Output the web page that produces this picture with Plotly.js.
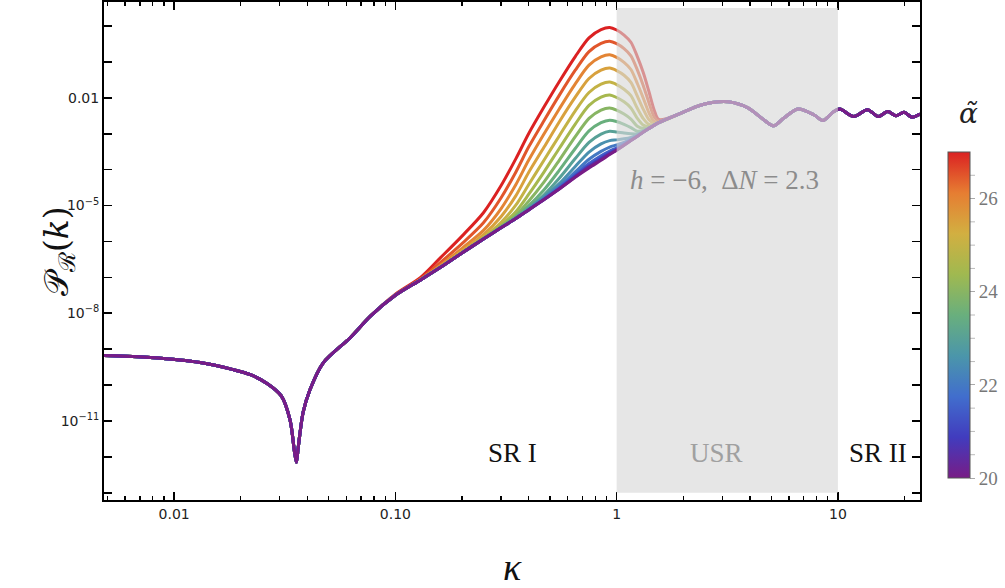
<!DOCTYPE html>
<html>
<head>
<meta charset="utf-8">
<script src="https://cdn.plot.ly/plotly-3.0.1.min.js"></script>
<style>html,body{margin:0;padding:0;background:#fff;}#plot{width:1005px;height:588px;}</style>
</head>
<body>
<div id="plot"></div>
<script>
// ---- data (kappa values, log10 of P_R) ----
// shared low-k part (all curves coincide)
const kappaLow = [0.0047, 0.0078, 0.0131, 0.0185, 0.0221, 0.0264, 0.0305, 0.0334, 0.0350, 0.0357, 0.0364, 0.0383, 0.0411, 0.0472, 0.0625, 0.0771];
const logPLow  = [-9.17, -9.23, -9.37, -9.57, -9.71, -9.96, -10.30, -10.97, -11.86, -12.15, -11.72, -10.75, -10.13, -9.38, -8.68, -8.08];

// bump region (curves differ by alpha)
const kappaMid = [0.1, 0.13, 0.16, 0.2, 0.25, 0.3, 0.35, 0.4, 0.47, 0.55, 0.65, 0.75, 0.85, 0.93, 1.0, 1.08, 1.16, 1.24, 1.32, 1.4, 1.48, 1.55];
const logP_a27   = [-7.47, -7.00, -6.45, -5.85, -5.20, -4.45, -3.70, -3.00, -2.25, -1.55, -0.85, -0.33, -0.10, -0.04, -0.11, -0.25, -0.45, -0.85, -1.30, -1.83, -2.35, -2.60];
const logP_a26_5 = [-7.49, -7.04, -6.58, -6.06, -5.48, -4.79, -4.07, -3.37, -2.63, -1.93, -1.23, -0.71, -0.48, -0.42, -0.49, -0.63, -0.83, -1.22, -1.66, -2.14, -2.54, -2.65];
const logP_a26   = [-7.50, -7.06, -6.66, -6.19, -5.69, -5.09, -4.42, -3.74, -3.00, -2.31, -1.61, -1.09, -0.86, -0.80, -0.87, -1.01, -1.21, -1.60, -2.01, -2.42, -2.66, -2.68];
const logP_a25_5 = [-7.50, -7.06, -6.69, -6.26, -5.81, -5.31, -4.73, -4.08, -3.37, -2.67, -1.98, -1.46, -1.23, -1.17, -1.24, -1.37, -1.57, -1.95, -2.32, -2.61, -2.71, -2.69];
const logP_a25   = [-7.50, -7.07, -6.71, -6.29, -5.88, -5.47, -4.99, -4.42, -3.73, -3.06, -2.36, -1.85, -1.62, -1.56, -1.63, -1.76, -1.94, -2.29, -2.58, -2.74, -2.74, -2.69];
const logP_a24_5 = [-7.50, -7.07, -6.72, -6.31, -5.91, -5.55, -5.17, -4.69, -4.06, -3.41, -2.73, -2.21, -1.98, -1.92, -1.99, -2.11, -2.28, -2.57, -2.76, -2.80, -2.75, -2.69];
const logP_a24   = [-7.50, -7.07, -6.72, -6.32, -5.92, -5.59, -5.27, -4.88, -4.34, -3.74, -3.08, -2.57, -2.34, -2.28, -2.34, -2.45, -2.59, -2.79, -2.85, -2.84, -2.76, -2.69];
const logP_a23_5 = [-7.50, -7.07, -6.72, -6.32, -5.93, -5.61, -5.32, -5.01, -4.56, -4.02, -3.41, -2.92, -2.69, -2.62, -2.66, -2.74, -2.83, -2.93, -2.91, -2.85, -2.76, -2.69];
const logP_a23   = [-7.50, -7.07, -6.72, -6.32, -5.93, -5.62, -5.34, -5.07, -4.70, -4.24, -3.69, -3.24, -3.01, -2.93, -2.95, -2.98, -3.00, -3.00, -2.94, -2.85, -2.76, -2.69];
const logP_a22_5 = [-7.50, -7.07, -6.72, -6.32, -5.93, -5.62, -5.36, -5.10, -4.76, -4.39, -3.91, -3.51, -3.28, -3.19, -3.17, -3.14, -3.10, -3.04, -2.94, -2.85, -2.76, -2.69];
const logP_a22   = [-7.50, -7.07, -6.72, -6.32, -5.93, -5.62, -5.36, -5.12, -4.80, -4.47, -4.06, -3.71, -3.49, -3.37, -3.31, -3.24, -3.15, -3.06, -2.95, -2.85, -2.76, -2.69];
const logP_a21_5 = [-7.50, -7.07, -6.72, -6.32, -5.93, -5.62, -5.36, -5.12, -4.82, -4.51, -4.14, -3.83, -3.61, -3.48, -3.39, -3.28, -3.17, -3.06, -2.95, -2.85, -2.76, -2.69];
const logP_a21   = [-7.50, -7.07, -6.72, -6.32, -5.93, -5.62, -5.36, -5.12, -4.83, -4.53, -4.18, -3.89, -3.68, -3.53, -3.43, -3.30, -3.18, -3.07, -2.95, -2.85, -2.76, -2.69];
const logP_a20_5 = [-7.50, -7.07, -6.72, -6.32, -5.93, -5.62, -5.36, -5.12, -4.83, -4.54, -4.20, -3.92, -3.71, -3.56, -3.45, -3.32, -3.19, -3.07, -2.95, -2.85, -2.76, -2.69];
const logP_a20   = [-7.50, -7.07, -6.72, -6.32, -5.93, -5.62, -5.36, -5.12, -4.83, -4.54, -4.21, -3.95, -3.74, -3.58, -3.46, -3.32, -3.19, -3.07, -2.95, -2.85, -2.76, -2.69];

// shared high-k part (USR tail and SR II oscillations)
const kappaHigh = [2.0, 2.35, 2.7, 3.2, 3.92, 4.62, 5.13, 5.70, 6.6, 7.78, 8.55, 9.59, 10.2, 11.8, 13.6, 15.2, 16.8, 18.3, 19.9, 21.6, 23.5];
const logPHigh  = [-2.40, -2.22, -2.13, -2.11, -2.28, -2.61, -2.78, -2.56, -2.31, -2.47, -2.63, -2.38, -2.31, -2.52, -2.33, -2.52, -2.38, -2.50, -2.40, -2.54, -2.45];

const alphaValues = [27, 26.5, 26, 25.5, 25, 24.5, 24, 23.5, 23, 22.5, 22, 21.5, 21, 20.5, 20];
const midSeries = [logP_a27, logP_a26_5, logP_a26, logP_a25_5, logP_a25, logP_a24_5, logP_a24, logP_a23_5, logP_a23, logP_a22_5, logP_a22, logP_a21_5, logP_a21, logP_a20_5, logP_a20];

const xTickVals = [0.01, 0.1, 1, 10];
const xTickText = ['0.01', '0.10', '1', '10'];
const yTickVals = [1e-11, 1e-8, 1e-5, 1e-2];
const yTickText = ['10<sup>−11</sup>', '10<sup>−8</sup>', '10<sup>−5</sup>', '0.01'];
const cbLabelVals = [20, 22, 24, 26];
const cbMinorVals = [20.5, 21, 21.5, 22.5, 23, 23.5, 24.5, 25, 25.5, 26.5];

// ---- style / geometry ----
const alphaMin = 20, alphaMax = 27;
const rainbow = [
  [0, [120, 28, 134]], [0.125, [65, 60, 190]], [0.25, [65, 110, 205]], [0.375, [75, 150, 170]],
  [0.5, [105, 175, 125]], [0.625, [160, 185, 80]], [0.75, [210, 175, 65]], [0.875, [230, 125, 50]], [1, [219, 33, 34]]
];
const colorscale = rainbow.map(s => [s[0], 'rgb(' + s[1].join(',') + ')']);
function colorAt(a) {
  const t = (a - alphaMin) / (alphaMax - alphaMin);
  for (let i = 1; i < rainbow.length; i++) {
    if (t <= rainbow[i][0]) {
      const [t0, c0] = rainbow[i - 1], [t1, c1] = rainbow[i];
      const f = (t - t0) / (t1 - t0);
      return 'rgb(' + c0.map((v, j) => Math.round(v + f * (c1[j] - v))).join(',') + ')';
    }
  }
  return 'rgb(' + rainbow[rainbow.length - 1][1].join(',') + ')';
}
const pow10 = v => Math.pow(10, v);

const W = 1005, H = 588, M = {l: 104, r: 85, t: 2, b: 88};
const plotW = W - M.l - M.r, plotH = H - M.t - M.b;
const cb = {left: 948, thick: 22, top: 152, len: 326};
const pxToPaperX = px => (px - M.l) / plotW;
const pxToPaperY = py => (H - M.b - py) / plotH;

const traces = alphaValues.map((a, i) => ({
  type: 'scatter', mode: 'lines',
  x: kappaLow.concat(kappaMid, kappaHigh),
  y: logPLow.concat(midSeries[i], logPHigh).map(pow10),
  line: {color: colorAt(a), width: 3, shape: 'spline', smoothing: 0.8},
  hoverinfo: 'skip', showlegend: false
}));

traces.push({
  type: 'scatter', mode: 'markers', x: [1], y: [1e-30], showlegend: false, hoverinfo: 'skip',
  marker: {
    color: [20], cmin: alphaMin, cmax: alphaMax, colorscale: colorscale, showscale: true, opacity: 0,
    colorbar: {
      x: pxToPaperX(cb.left), xanchor: 'left', y: pxToPaperY(cb.top + cb.len / 2), yanchor: 'middle',
      len: cb.len, lenmode: 'pixels', thickness: cb.thick, thicknessmode: 'pixels',
      xpad: 0, ypad: 0, outlinewidth: 1, outlinecolor: '#555',
      ticks: 'outside', ticklen: 5, tickwidth: 1, tickcolor: '#aaa',
      tickmode: 'array', tickvals: cbLabelVals, ticktext: cbLabelVals.map(String),
      tickfont: {family: 'Liberation Serif', size: 19, color: '#777'}
    }
  }
});

const minorX = [];
[0.001, 0.01, 0.1, 1, 10].forEach(d => { for (let m = 2; m <= 9; m++) minorX.push(d * m); });
const minorY = [];
for (let e = -14; e <= 1; e++) { if (![-11, -8, -5, -2].includes(e)) minorY.push(Math.pow(10, e)); }

// minor ticks of the colour bar
const cbMinorShapes = cbMinorVals.map(a => {
  const py = cb.top + cb.len * (alphaMax - a) / (alphaMax - alphaMin);
  return {type: 'line', xref: 'paper', yref: 'paper',
          x0: pxToPaperX(cb.left + cb.thick), x1: pxToPaperX(cb.left + cb.thick + 5),
          y0: pxToPaperY(py), y1: pxToPaperY(py), line: {color: '#bbb', width: 1}, layer: 'above'};
});

const axisCommon = {
  showline: true, linewidth: 2, linecolor: '#000', mirror: 'allticks',
  ticks: 'inside', ticklen: 8, tickwidth: 1.6, tickcolor: '#000',
  showgrid: false, zeroline: false,
  tickfont: {family: 'DejaVu Sans', size: 14, color: '#222'}
};

const layout = {
  width: W, height: H,
  margin: {l: M.l, r: M.r, t: M.t, b: M.b, autoexpand: false},
  paper_bgcolor: '#fff', plot_bgcolor: '#fff',
  showlegend: false,
  xaxis: Object.assign({}, axisCommon, {
    type: 'log', range: [-2.317, 1.371],
    tickmode: 'array', tickvals: xTickVals, ticktext: xTickText,
    minor: {tickvals: minorX, ticks: 'inside', ticklen: 4, tickwidth: 1.4, tickcolor: '#000', showgrid: false},
    title: {text: '<i>κ</i>', font: {family: 'Liberation Serif', size: 38, color: '#111'}, standoff: 34}
  }),
  yaxis: Object.assign({}, axisCommon, {
    type: 'log', range: [-13.2, 0.67],
    tickmode: 'array', tickvals: yTickVals, ticktext: yTickText,
    minor: {tickvals: minorY, ticks: 'inside', ticklen: 8, tickwidth: 1.6, tickcolor: '#000', showgrid: false}
  }),
  shapes: [{
    type: 'rect', xref: 'x', yref: 'y', x0: 1, x1: 10, y0: 1e-13, y1: 3.16,
    fillcolor: 'rgba(215,215,215,0.625)', line: {width: 0}, layer: 'above'
  }].concat(cbMinorShapes),
  annotations: [
    {text: '𝒫<sub>ℛ</sub>(<i>k</i>)', xref: 'paper', yref: 'paper', x: pxToPaperX(58), y: 0.5, textangle: -90,
     showarrow: false, xanchor: 'center', yanchor: 'middle', font: {family: 'DejaVu Serif', size: 33, color: '#111'}},
    {text: '<i>α̃</i>', xref: 'paper', yref: 'paper', x: pxToPaperX(968), y: pxToPaperY(113), showarrow: false,
     xanchor: 'center', yanchor: 'middle', font: {family: 'DejaVu Serif', size: 28, color: '#222'}},
    {text: 'SR I', xref: 'paper', yref: 'paper', x: 0.5, y: 0.0944, showarrow: false, xanchor: 'center', yanchor: 'middle',
     font: {family: 'Liberation Serif', size: 27, color: '#111'}},
    {text: 'USR', xref: 'paper', yref: 'paper', x: 0.75, y: 0.0944, showarrow: false, xanchor: 'center', yanchor: 'middle',
     font: {family: 'Liberation Serif', size: 27, color: '#a0a0a0'}},
    {text: 'SR II', xref: 'paper', yref: 'paper', x: 0.9485, y: 0.0944, showarrow: false, xanchor: 'center', yanchor: 'middle',
     font: {family: 'Liberation Serif', size: 27, color: '#111'}},
    {text: '<i>h</i> = −6,  Δ<i>N</i> = 2.3', xref: 'paper', yref: 'paper', x: 0.761, y: 0.6426, showarrow: false,
     xanchor: 'center', yanchor: 'middle', font: {family: 'Liberation Serif', size: 27, color: '#8c8c8c'}}
  ]
};

Plotly.newPlot('plot', traces, layout, {displayModeBar: false, staticPlot: true});
</script>
</body>
</html>
